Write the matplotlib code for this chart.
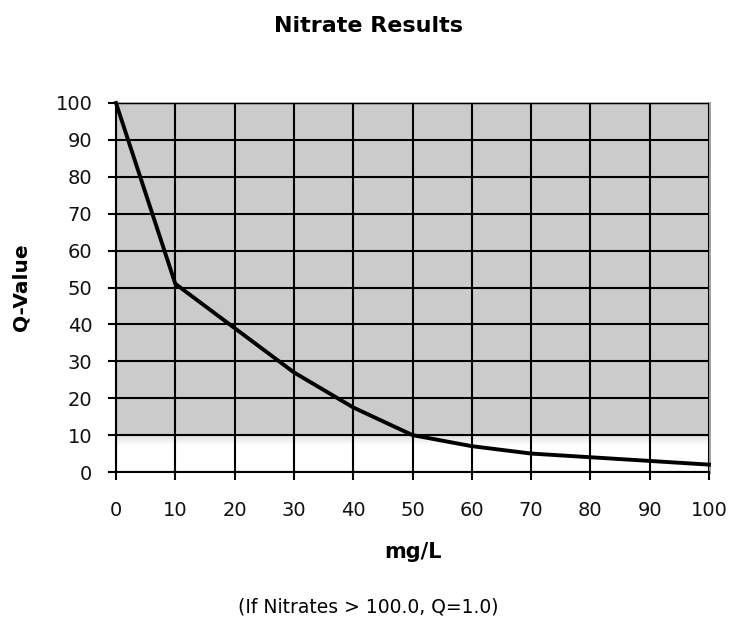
import numpy as np
import matplotlib
matplotlib.use("Agg")
import matplotlib.pyplot as plt

# Nitrate concentration (mg/L) vs. Q-value
nitrate_mg_l = [0, 10, 20, 30, 40, 50, 60, 70, 80, 90, 100]
q_value = [100, 51, 39, 27, 17.5, 10, 7, 5, 4, 3, 2]
x_ticks = list(range(0, 101, 10))
y_ticks = list(range(0, 101, 10))

plt.rcParams['font.family'] = ['DejaVu Sans']

fig = plt.figure(figsize=(7.35, 6.31), dpi=100)
ax = fig.add_axes([116 / 735, 1 - 472 / 631, 593 / 735, 369 / 631])

# plot area: grey above Q=10, fading to white below it
ax.set_facecolor('white')
ax.axhspan(10, 100, color='#cbcbcb', zorder=0, lw=0)
ny = 200
ys = np.linspace(0, 10, ny)
t = np.clip((ys - 6.8) / 3.2, 0, 1) ** 1.5
grey = 1.0 - t * (1.0 - 0.86)
img = np.repeat(grey[:, None], 2, axis=1)
ax.imshow(np.dstack([img, img, img]), extent=[0, 100, 0, 10], origin='lower',
          aspect='auto', zorder=0.5, interpolation='bilinear')

ax.set_xlim(0, 100)
ax.set_ylim(0, 100)
ax.set_xticks(x_ticks)
ax.set_yticks(y_ticks)
ax.grid(True, color='black', lw=1.5, zorder=1)
ax.set_axisbelow(False)

ax.plot(nitrate_mg_l, q_value, color='black', lw=2.8, zorder=3,
        solid_joinstyle='round', clip_on=False)

for side in ('left', 'bottom'):
    ax.spines[side].set_color('black')
    ax.spines[side].set_linewidth(1.5)
for side in ('top', 'right'):
    ax.spines[side].set_color('#9a9a9a')
    ax.spines[side].set_linewidth(2.0)

ax.tick_params(axis='both', direction='out', length=6, width=1.5,
               color='black', labelsize=14, labelcolor='#111111')
ax.tick_params(axis='x', pad=15)
ax.tick_params(axis='y', pad=11)

ax.set_xlabel('mg/L', fontsize=15, fontweight='bold', labelpad=16)
ax.set_ylabel('Q-Value', fontsize=14.5, fontweight='bold', labelpad=18)

fig.text(369 / 735, 1 - 26 / 631, 'Nitrate Results', ha='center', va='center',
         fontsize=16, fontweight='bold')
fig.text(368 / 735, 1 - 607 / 631, '(If Nitrates > 100.0, Q=1.0)',
         ha='center', va='center', fontsize=13.5)

fig.savefig('out.png', dpi=100)
